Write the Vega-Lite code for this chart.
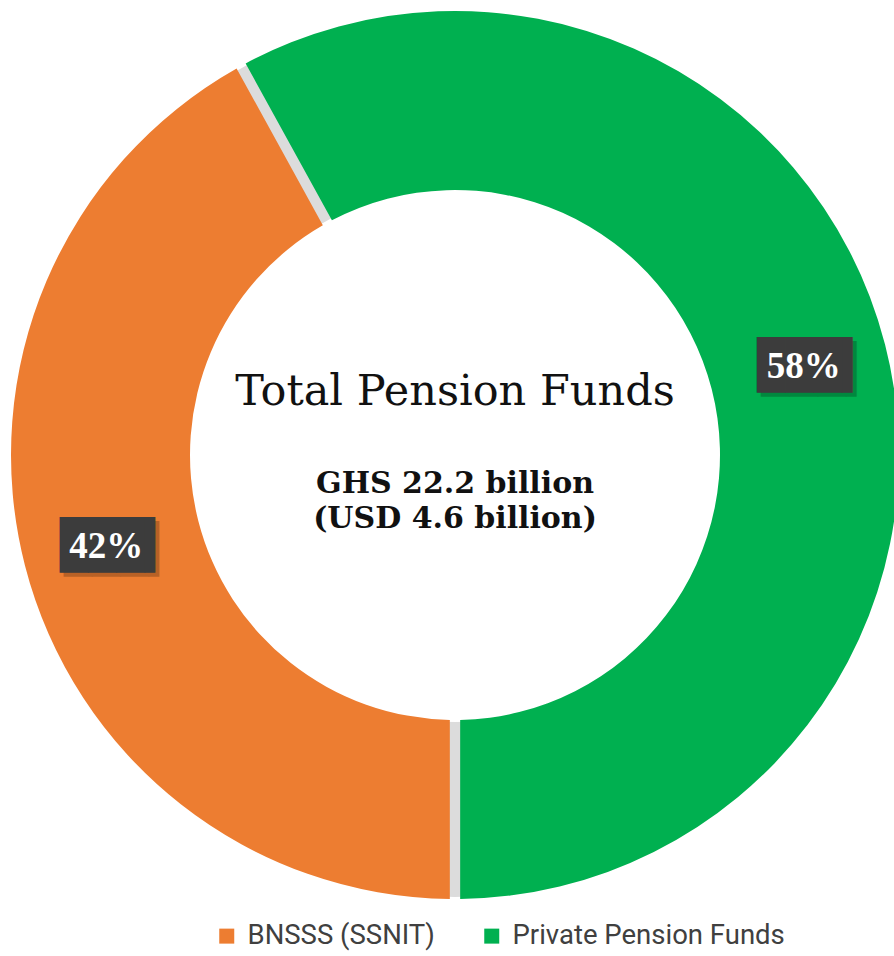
{
  "$schema": "https://vega.github.io/schema/vega-lite/v6.json",
  "width": 878,
  "height": 910,
  "autosize": "none",
  "padding": {"left": 16, "top": 0, "right": 0, "bottom": 46},
  "background": "white",
  "config": {"view": {"stroke": null}},
  "data": {"values": [
    {"cat": "BNSSS (SSNIT)", "value": 42, "label": "42%"},
    {"cat": "Private Pension Funds", "value": 58, "label": "58%"}
  ]},
  "layer": [
    {
      "data": {"values": [{"ring": 1}]},
      "mark": {"type": "arc", "theta": 0, "theta2": 6.2832, "innerRadius": 267, "outerRadius": 442, "fill": "#dcdcdc"},
      "encoding": {}
    },
    {
      "mark": {"type": "arc", "innerRadius": 265, "outerRadius": 444, "padAngle": 0.02},
      "encoding": {
        "theta": {"field": "value", "type": "quantitative", "stack": true, "scale": {"range": [3.14159265, 9.42477796]}},
        "color": {"field": "cat", "type": "nominal",
          "scale": {"domain": ["BNSSS (SSNIT)", "Private Pension Funds"], "range": ["#ED7D31", "#00B050"]},
          "legend": {"title": null, "orient": "none", "legendX": 197, "legendY": 922, "direction": "horizontal",
            "symbolType": "square", "symbolSize": 225, "symbolStrokeWidth": 0, "labelFont": "Roboto",
            "labelFontSize": 27.5, "labelColor": "#404040", "columnPadding": 43, "labelOffset": 7, "labelLimit": 600}}
      }
    },
    {
      "mark": {"type": "text", "radius": 360, "text": "███▍", "font": "DejaVu Sans Mono", "fontSize": 47, "baseline": "middle", "align": "center", "fill": "#000000", "opacity": 0.22, "dx": 14, "dy": 6},
      "encoding": {
        "theta": {"field": "value", "type": "quantitative", "stack": true},
        "detail": {"field": "cat", "type": "nominal"}
      }
    },
    {
      "mark": {"type": "text", "radius": 360, "text": "███▍", "font": "DejaVu Sans Mono", "fontSize": 47, "baseline": "middle", "align": "center", "fill": "#3c3c3c", "dx": 10, "dy": 2},
      "encoding": {
        "theta": {"field": "value", "type": "quantitative", "stack": true},
        "detail": {"field": "cat", "type": "nominal"}
      }
    },
    {
      "mark": {"type": "text", "radius": 360, "font": "Liberation Serif", "fontWeight": "bold", "fontSize": 37, "baseline": "middle", "align": "center", "fill": "white", "dy": 2},
      "encoding": {
        "theta": {"field": "value", "type": "quantitative", "stack": true},
        "detail": {"field": "cat", "type": "nominal"},
        "text": {"field": "label", "type": "nominal"}
      }
    },
    {
      "data": {"values": [{"t": "Total Pension Funds"}]},
      "mark": {"type": "text", "font": "DejaVu Serif", "fontSize": 43, "baseline": "alphabetic", "align": "center", "fill": "#111111", "dy": -50},
      "encoding": {"text": {"field": "t", "type": "nominal"}}
    },
    {
      "data": {"values": [{"t": "GHS 22.2 billion", "u": "(USD 4.6 billion)"}]},
      "mark": {"type": "text", "font": "DejaVu Serif", "fontWeight": "bold", "fontSize": 30, "baseline": "alphabetic", "align": "center", "fill": "#111111", "lineHeight": 35, "dy": 38},
      "encoding": {
        "text": {"value": ["GHS 22.2 billion", "(USD 4.6 billion)"]}
      }
    }
  ]
}
